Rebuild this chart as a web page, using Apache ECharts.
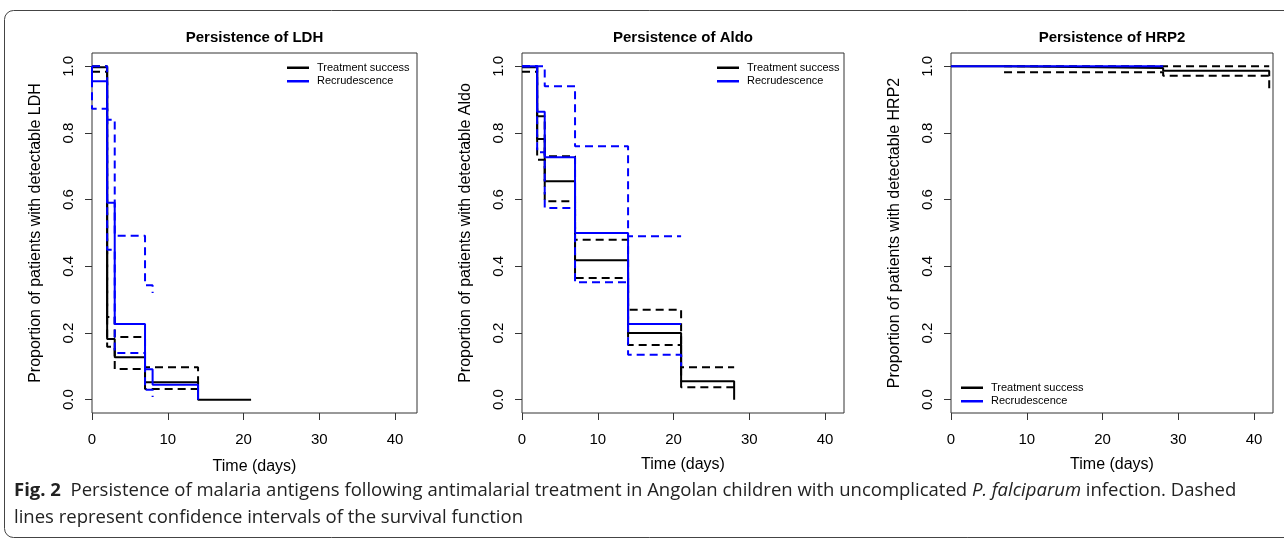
<!DOCTYPE html>
<html>
<head>
<meta charset="utf-8">
<script src="https://cdn.jsdelivr.net/npm/echarts@6/dist/echarts.min.js"></script>
<style>
html,body{margin:0;padding:0;background:#fff;}
#chart{width:1284px;height:543px;}
</style>
</head>
<body>
<div id="chart"></div>
<script>
// ---------- DATA ----------
const panelTitles = ['Persistence of LDH', 'Persistence of Aldo', 'Persistence of HRP2'];
const yTitles = ['Proportion of patients with detectable LDH', 'Proportion of patients with detectable Aldo', 'Proportion of patients with detectable HRP2'];
const xTitle = 'Time (days)';
const xTicks = [0, 10, 20, 30, 40];
const yTicks = [0, 0.2, 0.4, 0.6, 0.8, 1.0];
const groupNames = ['Treatment success', 'Recrudescence'];

// LDH - Treatment success
const ldhTsTime = [0, 2, 3, 7, 14, 21];
const ldhTsSurv = [0.997, 0.182, 0.127, 0.052, 0, 0];
const ldhTsCiTime = [0, 2, 3, 7, 14];
const ldhTsUpper = [1, 0.248, 0.188, 0.097, 0.03];
const ldhTsLower = [0.984, 0.159, 0.092, 0.032, 0.032];
// LDH - Recrudescence
const ldhReTime = [0, 0, 2, 3, 7, 8, 14];
const ldhReSurv = [1, 0.955, 0.591, 0.227, 0.091, 0.045, 0];
const ldhReCiTime = [0, 0, 2, 3, 7, 8];
const ldhReUpper = [1, 1, 0.84, 0.492, 0.343, 0.32];
const ldhReLower = [1, 0.873, 0.45, 0.14, 0.03, 0.008];

// Aldo - Treatment success
const aldoTsTime = [0, 2, 3, 7, 14, 21, 28];
const aldoTsSurv = [0.997, 0.782, 0.655, 0.418, 0.2, 0.055, 0];
const aldoTsUpper = [1, 0.85, 0.73, 0.48, 0.27, 0.097, 0.097];
const aldoTsLower = [0.984, 0.72, 0.595, 0.365, 0.164, 0.037, 0.037];
// Aldo - Recrudescence
const aldoReTime = [0, 2, 3, 7, 14, 21];
const aldoReSurv = [1, 0.864, 0.727, 0.5, 0.227, 0.227];
const aldoReUpTime = [0, 3, 7, 14, 21];
const aldoReUpper = [1, 0.94, 0.76, 0.49, 0.49];
const aldoReLower = [1, 0.742, 0.575, 0.352, 0.135, 0.10];

// HRP2 - Treatment success
const hrpTsTime = [0, 7, 28, 42];
const hrpTsSurv = [1, 0.995, 0.987, 0.97];
const hrpTsUpTime = [7, 42];
const hrpTsUpper = [1, 1];
const hrpTsLoTime = [7, 28, 42];
const hrpTsLower = [0.982, 0.972, 0.92];
// HRP2 - Recrudescence
const hrpReTime = [0, 28];
const hrpReSurv = [1, 1];

const captionLine1 = ['Fig. 2', '  Persistence of malaria antigens following antimalarial treatment in Angolan children with uncomplicated ', 'P. falciparum', ' infection. Dashed'];
const captionLine2 = 'lines represent confidence intervals of the survival function';

// ---------- STYLE / LAYOUT ----------
const BLACK = '#000000';
const BLUE = '#0000ff';
const FONT = "'Liberation Sans', Arial, Helvetica, sans-serif";
const grids = [
  {left: 92, top: 53, width: 325, height: 360},
  {left: 522, top: 53, width: 322, height: 360},
  {left: 951, top: 53, width: 322, height: 360}
];
const xMax = [42.9, 42.5, 42.5];
const xNameGap = [46, 44, 44];

function zip(t, v) { return t.map((x, i) => [x, v[i]]); }
function ser(name, idx, t, v, color, dashed, z) {
  return {
    type: 'line', name: name, xAxisIndex: idx, yAxisIndex: idx,
    data: zip(t, v), step: 'end', symbol: 'none', showSymbol: false,
    lineStyle: {color: color, width: 2, type: dashed ? [8, 5] : 'solid'},
    itemStyle: {color: color}, emphasis: {disabled: true},
    silent: true, animation: false, z: z
  };
}

const series = [
  ser(groupNames[0], 0, ldhTsTime, ldhTsSurv, BLACK, false, 2),
  ser('TS upper', 0, ldhTsCiTime, ldhTsUpper, BLACK, true, 2),
  ser('TS lower', 0, ldhTsCiTime, ldhTsLower, BLACK, true, 2),
  ser(groupNames[1], 0, ldhReTime, ldhReSurv, BLUE, false, 3),
  ser('Re upper', 0, ldhReCiTime, ldhReUpper, BLUE, true, 3),
  ser('Re lower', 0, ldhReCiTime, ldhReLower, BLUE, true, 3),

  ser(groupNames[0], 1, aldoTsTime, aldoTsSurv, BLACK, false, 2),
  ser('TS upper', 1, aldoTsTime, aldoTsUpper, BLACK, true, 2),
  ser('TS lower', 1, aldoTsTime, aldoTsLower, BLACK, true, 2),
  ser(groupNames[1], 1, aldoReTime, aldoReSurv, BLUE, false, 3),
  ser('Re upper', 1, aldoReUpTime, aldoReUpper, BLUE, true, 3),
  ser('Re lower', 1, aldoReTime, aldoReLower, BLUE, true, 3),

  ser(groupNames[0], 2, hrpTsTime, hrpTsSurv, BLACK, false, 2),
  ser('TS upper', 2, hrpTsUpTime, hrpTsUpper, BLACK, true, 2),
  ser('TS lower', 2, hrpTsLoTime, hrpTsLower, BLACK, true, 2),
  ser(groupNames[1], 2, hrpReTime, hrpReSurv, BLUE, false, 3)
];

const xAxes = grids.map((g, i) => ({
  type: 'value', gridIndex: i, min: 0, max: xMax[i], position: 'bottom',
  name: xTitle, nameLocation: 'middle', nameGap: xNameGap[i],
  nameTextStyle: {fontSize: 16, fontFamily: FONT, color: '#000'},
  axisLine: {show: false, onZero: false},
  axisTick: {show: true, inside: false, length: 7, lineStyle: {color: '#333', width: 1}, customValues: xTicks},
  axisLabel: {show: true, margin: 19, fontSize: 15, fontFamily: FONT, color: '#000', customValues: xTicks},
  splitLine: {show: false}
}));
const yAxes = grids.map((g, i) => ({
  type: 'value', gridIndex: i, min: -0.04, max: 1.04, position: 'left',
  name: yTitles[i], nameLocation: 'middle', nameGap: 48, nameRotate: 90,
  nameTextStyle: {fontSize: 16, fontFamily: FONT, color: '#000'},
  axisLine: {show: false, onZero: false},
  axisTick: {show: true, inside: false, length: 7, lineStyle: {color: '#333', width: 1}, customValues: yTicks},
  axisLabel: {show: true, rotate: 90, margin: 16, fontSize: 15, fontFamily: FONT, color: '#000',
    customValues: yTicks, formatter: v => Number(v).toFixed(1)},
  splitLine: {show: false}
}));

function legendAt(left, top) {
  return {
    left: left, top: top, orient: 'vertical', padding: 0, itemGap: 0,
    data: groupNames, icon: 'rect', itemWidth: 22, itemHeight: 2.5,
    selectedMode: false,
    textStyle: {fontSize: 11, fontFamily: FONT, color: '#000', lineHeight: 13.5, padding: [0, 0, 0, 3]}
  };
}

const graphics = [];
grids.forEach((g, i) => {
  graphics.push({
    type: 'text', x: g.left + g.width / 2, y: 37.5, silent: true,
    style: {text: panelTitles[i], align: 'center', verticalAlign: 'middle',
      textAlign: 'center', textVerticalAlign: 'middle',
      fontSize: 15, fontWeight: 'bold', fontFamily: FONT, fill: '#000'}
  });
});
graphics.push({
  type: 'rect', silent: true, z: -1,
  shape: {x: 4.5, y: 10.5, width: 1300, height: 527, r: 9},
  style: {fill: 'none', stroke: '#444', lineWidth: 1}
});
const CAPFONT = "'Open Sans', 'Noto Sans', sans-serif";
const CAPSIZE = 18.5;
graphics.push({
  type: 'text', x: 14, y: 491, silent: true,
  style: {
    text: '{b|' + captionLine1[0] + '}' + captionLine1[1] + '{i|' + captionLine1[2] + '}' + captionLine1[3],
    verticalAlign: 'middle', textVerticalAlign: 'middle',
    fontSize: CAPSIZE, fontFamily: CAPFONT, fill: '#222',
    rich: {
      b: {fontSize: CAPSIZE, fontWeight: 'bold', fontFamily: CAPFONT, fill: '#222'},
      i: {fontSize: CAPSIZE, fontStyle: 'italic', fontFamily: CAPFONT, fill: '#222'}
    }
  }
});
graphics.push({
  type: 'text', x: 14, y: 518, silent: true,
  style: {text: captionLine2, verticalAlign: 'middle', textVerticalAlign: 'middle',
    fontSize: CAPSIZE, fontFamily: CAPFONT, fill: '#222'}
});

const option = {
  animation: false,
  backgroundColor: '#fff',
  grid: grids.map(g => Object.assign({show: true, borderColor: '#333', borderWidth: 1, backgroundColor: 'transparent'}, g)),
  xAxis: xAxes,
  yAxis: yAxes,
  legend: [legendAt(287, 61), legendAt(717, 61), legendAt(961, 381)],
  graphic: graphics,
  series: series
};

const chart = echarts.init(document.getElementById('chart'), null, {renderer: 'canvas'});
chart.setOption(option);
</script>
</body>
</html>
